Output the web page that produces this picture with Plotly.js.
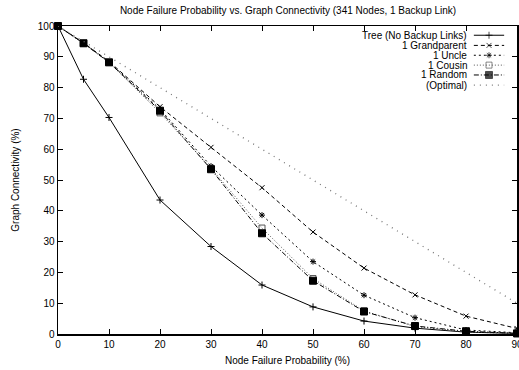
<!DOCTYPE html>
<html><head><meta charset="utf-8">
<script src="https://cdn.plot.ly/plotly-3.0.1.min.js"></script>
<style>html,body{margin:0;padding:0;background:#fff;}#chart{width:519px;height:370px;}</style>
</head><body><div id="chart"></div>
<script>
const failureProb = [0, 5, 10, 20, 30, 40, 50, 60, 70, 80, 90];
const seriesNames = ["Tree (No Backup Links)", "1 Grandparent", "1 Uncle", "1 Cousin", "1 Random", "(Optimal)"];
const tree        = [100, 82.7, 70.3, 43.5, 28.4, 15.9, 8.8, 4.2, 1.9, 0.6, 0.2];
const grandparent = [100, 94.5, 88.5, 73.8, 60.6, 47.5, 33.1, 21.4, 12.7, 5.8, 1.8];
const uncle       = [100, 94.5, 88.3, 73.0, 54.5, 38.6, 23.5, 12.6, 5.3, 1.3, 0.4];
const cousin      = [100, 94.3, 88.2, 71.8, 53.8, 34.4, 18.0, 7.5, 2.4, 0.7, 0.1];
const random      = [100, 94.4, 88.2, 72.5, 53.5, 32.7, 17.3, 7.3, 2.6, 0.9, 0.2];
const optimalX    = [0, 90];
const optimal     = [100, 10];
const xTicks = [0, 10, 20, 30, 40, 50, 60, 70, 80, 90];
const yTicks = [0, 10, 20, 30, 40, 50, 60, 70, 80, 90, 100];

const styles = [
  {color: "#000", dash: "solid", symbol: "cross-thin-open", size: 5, lw: 1},
  {color: "#000", dash: "4px,3px", symbol: "x-thin-open", size: 5, lw: 1},
  {color: "#000", dash: "2px,3px", symbol: "asterisk-open", size: 5, lw: 1},
  {color: "#555", dash: "1px,2px", symbol: "square-open", size: 6, lw: 1},
  {color: "#000", dash: "5px,2px,1px,2px", symbol: "square", size: 7, lw: 1},
  {color: "#777", dash: "1px,5px", symbol: "circle", size: 1, lw: 1.3}
];
const ys = [tree, grandparent, uncle, cousin, random, optimal];
const xs = [failureProb, failureProb, failureProb, failureProb, failureProb, optimalX];

const traces = [];
ys.forEach((y, i) => {
  const s = styles[i];
  traces.push({
    type: "scatter", mode: i === 5 ? "lines" : "lines+markers", x: xs[i], y: y, name: seriesNames[i],
    line: {color: s.color, width: s.lw, dash: s.dash},
    marker: {symbol: s.symbol, size: s.size, color: s.color, line: {color: s.color, width: 1}},
    showlegend: false, cliponaxis: false
  });
});

// custom gnuplot-style key: text right, sample on the right
const keyRowsY = [0.970, 0.937, 0.905, 0.873, 0.841, 0.808];
const keyTextX = 0.893, keyX0 = 0.906, keyX1 = 0.972;
const annotations = [];
seriesNames.forEach((n, i) => {
  const s = styles[i];
  annotations.push({xref: "paper", yref: "paper", x: keyTextX, y: keyRowsY[i], text: n, showarrow: false,
    xanchor: "right", yanchor: "middle", borderpad: 0, font: {size: 10, color: "#000"}});
  traces.push({
    type: "scatter", mode: "lines+markers", xaxis: "x2", yaxis: "y2",
    x: [keyX0, (keyX0 + keyX1) / 2, keyX1], y: [keyRowsY[i], keyRowsY[i], keyRowsY[i]],
    line: {color: s.color, width: s.lw, dash: s.dash},
    marker: {symbol: s.symbol, size: [0, i === 5 ? 0 : s.size, 0], color: s.color, line: {color: s.color, width: 1}},
    showlegend: false, hoverinfo: "skip"
  });
});

const layout = {
  width: 519, height: 370,
  margin: {l: 58, r: 2, t: 26, b: 36},
  paper_bgcolor: "#fff", plot_bgcolor: "#fff",
  font: {family: "Liberation Sans, Arial, sans-serif", size: 10, color: "#000"},
  title: {text: "Node Failure Probability vs. Graph Connectivity (341 Nodes, 1 Backup Link)",
    x: 0.555, xanchor: "center", y: 0.972, yanchor: "middle", font: {size: 10}},
  xaxis: {range: [0, 90], tickvals: xTicks, ticktext: xTicks.map(String), ticks: "inside", ticklen: 5,
    tickcolor: "#000", showline: true, linecolor: "#000", linewidth: 1.5, mirror: "ticks",
    ticklabeloverflow: "allow",
    showgrid: false, zeroline: false, fixedrange: true,
    title: {text: "Node Failure Probability (%)", font: {size: 10}, standoff: 8}},
  yaxis: {range: [0, 100], tickvals: yTicks, ticktext: yTicks.map(String), ticks: "inside", ticklen: 5,
    tickcolor: "#000", showline: true, linecolor: "#000", linewidth: 1.5, mirror: "ticks",
    ticklabeloverflow: "allow",
    showgrid: false, zeroline: false, fixedrange: true,
    title: {text: "Graph Connectivity (%)", font: {size: 10}, standoff: 16}},
  xaxis2: {overlaying: "x", range: [0, 1], visible: false, fixedrange: true},
  yaxis2: {overlaying: "y", range: [0, 1], visible: false, fixedrange: true},
  annotations: annotations,
  showlegend: false
};
Plotly.newPlot("chart", traces, layout, {displayModeBar: false, staticPlot: true});
</script></body></html>
